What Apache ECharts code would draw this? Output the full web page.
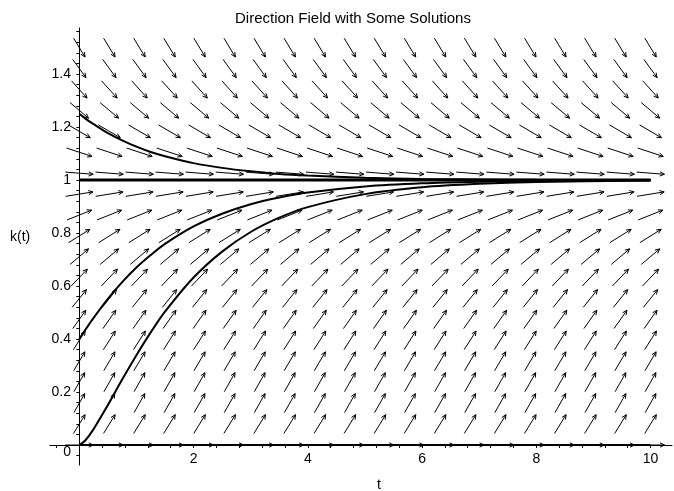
<!DOCTYPE html>
<html>
<head>
<meta charset="utf-8">
<script src="https://cdn.jsdelivr.net/npm/echarts@6/dist/echarts.min.js"></script>
<style>
    html, body { margin: 0; padding: 0; background: #fff; }
    #chart { width: 674px; height: 491px; }
</style>
</head>
<body>
<div id="chart"></div>
<script>
// 方向场网格 (t 列, k 行) 和每行的斜率 dk/dt
var tGrid = [0, 0.526, 1.053, 1.579, 2.105, 2.632, 3.158, 3.684, 4.211, 4.737, 5.263, 5.789, 6.316, 6.842, 7.368, 7.895, 8.421, 8.947, 9.474, 10];
var kGrid = [0, 0.079, 0.158, 0.237, 0.316, 0.395, 0.474, 0.553, 0.632, 0.711, 0.789, 0.868, 0.947, 1.026, 1.105, 1.184, 1.263, 1.342, 1.421, 1.5];
var kSlope = [0, 0.35, 0.38, 0.38, 0.365, 0.34, 0.306, 0.268, 0.226, 0.182, 0.135, 0.086, 0.035, -0.017, -0.071, -0.126, -0.182, -0.239, -0.297, -0.355];

// 解曲线
var solT = [0, 0.1, 0.25, 0.5, 0.75, 1, 1.25, 1.5, 2, 2.5, 3, 3.5, 4, 5, 6, 7, 8, 10];
var fromZero = [0, 0.016, 0.060, 0.151, 0.247, 0.339, 0.425, 0.503, 0.632, 0.730, 0.804, 0.858, 0.898, 0.947, 0.973, 0.986, 0.993, 0.998];
var fromPoint4 = [0.4, 0.433, 0.480, 0.552, 0.615, 0.670, 0.717, 0.759, 0.825, 0.873, 0.909, 0.934, 0.953, 0.976, 0.988, 0.994, 0.997, 0.999];
var from125 = [1.25, 1.233, 1.211, 1.177, 1.150, 1.126, 1.106, 1.090, 1.064, 1.046, 1.033, 1.023, 1.017, 1.009, 1.004, 1.002, 1.001, 1.0];
var eqT = [0, 10];
var eqOne = [1, 1];
var eqZero = [0, 0];

// 刻度
var xLabels = [2, 4, 6, 8, 10];
var xTicks = [-0.4, 0.4, 0.8, 1.2, 1.6, 2, 2.4, 2.8, 3.2, 3.6, 4, 4.4, 4.8, 5.2, 5.6, 6, 6.4, 6.8, 7.2, 7.6, 8, 8.4, 8.8, 9.2, 9.6, 10];
var yLabels = [0, 0.2, 0.4, 0.6, 0.8, 1, 1.2, 1.4];
var yTicks = [-0.04, 0.04, 0.08, 0.12, 0.16, 0.2, 0.24, 0.28, 0.32, 0.36, 0.4, 0.44, 0.48, 0.52, 0.56, 0.6, 0.64, 0.68, 0.72, 0.76, 0.8,
    0.84, 0.88, 0.92, 0.96, 1, 1.04, 1.08, 1.12, 1.16, 1.2, 1.24, 1.28, 1.32, 1.36, 1.4, 1.44, 1.48, 1.52, 1.56];

var FONT = 'Liberation Sans, Arial, Helvetica, sans-serif';

var fieldData = [];
tGrid.forEach(function (t) {
    kGrid.forEach(function (k, i) {
        fieldData.push([t, k, kSlope[i]]);
    });
});

function pairs(xs, ys) {
    return xs.map(function (x, i) { return [x, ys[i]]; });
}

var cellT = tGrid[1] - tGrid[0];
var cellK = kGrid[1] - kGrid[0];

function renderArrow(params, api) {
    var c = api.coord([api.value(0), api.value(1)]);
    var s = api.size([1, 1]);
    var f = api.value(2);
    var lx = 0.93 * cellT * s[0], ly = 0.985 * cellK * s[1];
    var dx = s[0], dy = -f * s[1];
    var sc = 1 / Math.sqrt(Math.pow(dx / lx, 2) + Math.pow(dy / ly, 2));
    var vx = dx * sc, vy = dy * sc;
    var x0 = c[0] - vx / 2, y0 = c[1] - vy / 2;
    var x1 = c[0] + vx / 2, y1 = c[1] + vy / 2;
    var ang = Math.atan2(vy, vx), h = 5, a = 25 * Math.PI / 180;
    var b1 = [x1 - h * Math.cos(ang - a), y1 - h * Math.sin(ang - a)];
    var b2 = [x1 - h * Math.cos(ang + a), y1 - h * Math.sin(ang + a)];
    var st = { stroke: '#000', lineWidth: 1, fill: null };
    return {
        type: 'group',
        children: [
            { type: 'polyline', shape: { points: [[x0, y0], [x1, y1]] }, style: st },
            { type: 'polyline', shape: { points: [b1, [x1, y1], b2] }, style: st }
        ]
    };
}

function solLine(name, data, width) {
    return {
        name: name,
        type: 'line',
        data: data,
        smooth: 0.3,
        showSymbol: false,
        symbol: 'none',
        silent: true,
        lineStyle: { color: '#000', width: width },
        z: 5
    };
}

var chart = echarts.init(document.getElementById('chart'));
chart.setOption({
    animation: false,
    backgroundColor: '#fff',
    title: {
        text: 'Direction Field with Some Solutions',
        left: 235,
        top: 11,
        padding: 0,
        textStyle: { fontFamily: FONT, fontSize: 15, fontWeight: 'normal', color: '#000' }
    },
    grid: { left: 50, right: 2, top: 28, bottom: 26, outerBoundsMode: 'none' },
    xAxis: {
        type: 'value',
        min: -0.513,
        max: 10.376,
        axisLine: { onZero: true, lineStyle: { color: '#000', width: 1 } },
        axisTick: { show: true, length: 3, customValues: xTicks, lineStyle: { color: '#000' } },
        axisLabel: { customValues: xLabels, margin: -13, fontFamily: FONT, fontSize: 14, color: '#000' },
        splitLine: { show: false }
    },
    yAxis: {
        type: 'value',
        min: -0.0755,
        max: 1.574,
        axisLine: { show: true, onZero: true, lineStyle: { color: '#000', width: 1 } },
        axisTick: { show: true, length: 3, customValues: yTicks, lineStyle: { color: '#000' } },
        axisLabel: {
            customValues: yLabels,
            margin: -21,
            fontFamily: FONT,
            fontSize: 14,
            color: '#000',
            formatter: function (v) { return v === 0 ? '{z|0}' : String(v); },
            rich: { z: { fontFamily: FONT, fontSize: 14, color: '#000', padding: [15, 0, 0, 0] } }
        },
        splitLine: { show: false }
    },
    graphic: [
        { type: 'text', left: 10, top: 230, style: { text: 'k(t)', font: '14px ' + FONT, fill: '#000' } },
        { type: 'text', left: 377, top: 478, style: { text: 't', font: '14px ' + FONT, fill: '#000' } }
    ],
    series: [
        {
            name: 'field',
            type: 'custom',
            renderItem: renderArrow,
            data: fieldData,
            silent: true,
            clip: false,
            z: 2
        },
        solLine('k=0', pairs(eqT, eqZero), 2),
        solLine('k=1', pairs(eqT, eqOne), 3),
        solLine('k0=0', pairs(solT, fromZero), 2),
        solLine('k0=0.4', pairs(solT, fromPoint4), 2),
        solLine('k0=1.25', pairs(solT, from125), 2)
    ]
});
</script>
</body>
</html>
